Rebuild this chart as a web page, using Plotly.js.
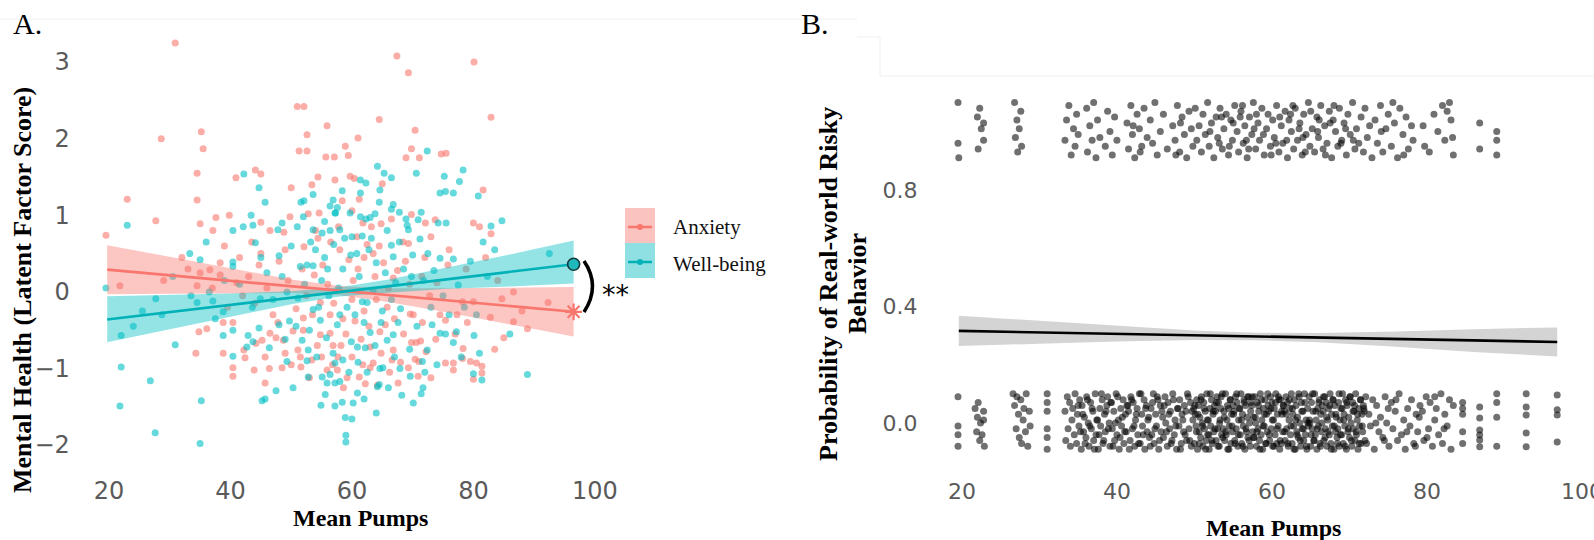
<!DOCTYPE html>
<html><head><meta charset="utf-8">
<script src="https://cdn.plot.ly/plotly-3.0.1.min.js"></script>
<style>html,body{margin:0;padding:0;background:#fff}#chart{width:1594px;height:540px}</style>
</head><body><div id="chart"></div>
<script>
// ---------- Panel A: mental health vs mean pumps ----------
const anxietyPoints = [
[30.9,3.25],[51.0,2.42],[52.1,2.42],[55.9,2.17],[35.2,2.09],[28.6,2.00],[35.5,1.87],[52.6,2.05],[51.3,1.84],[52.6,1.84],
[55.7,1.76],[57.1,1.76],[34.5,1.55],[40.9,1.49],[44.1,1.59],[45.0,1.54],[54.4,1.50],[53.4,1.40],[50.0,1.36],[57.2,1.46],
[23.0,1.21],[34.5,1.20],[27.7,0.93],[35.0,0.89],[37.6,0.97],[39.8,1.00],[37.1,0.80],[45.0,0.91],[49.8,0.98],[52.8,1.02],
[54.6,1.03],[48.8,0.78],[19.5,0.74],[45.0,0.50],[52.1,0.59],[54.4,0.70],[38.3,0.38],[44.7,0.35],[67.4,3.08],[69.3,2.86],
[80.1,3.00],[82.9,2.28],[64.5,2.25],[70.4,2.11],[61.0,2.01],[58.9,1.90],[59.4,1.78],[69.8,1.87],[68.9,1.75],[71.1,1.75],
[74.7,1.80],[75.5,1.81],[59.7,1.51],[60.4,1.48],[65.0,1.41],[81.6,1.33],[58.4,1.19],[61.2,1.21],[60.0,1.06],[64.8,0.89],
[69.8,1.01],[72.1,0.90],[73.7,0.94],[80.0,0.90],[81.0,0.85],[82.9,0.76],[68.4,0.65],[69.3,0.63],[63.5,0.50],[73.0,0.72],
[61.8,0.90],[21.8,0.08],[34.8,-0.52],[36.1,-0.48],[34.3,-0.80],[38.8,-0.80],[40.4,-0.40],[38.8,-0.40],[42.2,-0.76],[42.4,-0.86],
[40.4,-0.99],[40.4,-1.10],[43.9,-1.02],[45.7,-0.85],[46.4,-1.00],[45.7,-1.19],[44.2,-0.67],[45.2,-0.63],[46.5,-0.54],[47.5,-0.60],
[48.7,-0.63],[48.5,-0.99],[50.3,-0.51],[52.0,-0.50],[51.1,-0.76],[51.5,-0.85],[51.6,-0.98],[53.4,-0.89],[54.3,-0.70],[52.0,-0.34],
[54.8,-0.56],[56.4,-0.54],[56.9,-0.70],[57.7,-0.85],[55.9,-1.02],[57.6,-1.02],[54.8,-0.14],[56.4,-0.30],[35.0,0.25],[36.6,0.29],
[38.3,0.22],[88.9,-0.48],[86.6,-0.39],[92.3,-0.14],[84.7,-0.09],[86.6,0.00],[82.8,-0.33],[81.4,-1.06],[80.0,-1.14],[81.4,-0.97],
[80.5,-0.93],[79.5,-0.91],[78.2,-0.87],[78.3,-0.74],[76.7,-0.93],[76.7,-1.02],[75.4,-0.93],[73.0,-1.12],[70.9,-1.10],[67.6,-1.19],
[69.3,-0.99],[70.4,-0.88],[71.0,-0.91],[69.8,-0.66],[70.6,-0.66],[71.3,-0.64],[66.8,-0.76],[66.6,-0.89],[64.6,-0.52],[65.5,-0.43],
[69.6,-0.29],[70.1,-0.30],[71.6,-0.40],[74.5,-0.30],[75.4,-0.37],[77.3,-0.30],[63.0,-0.99],[63.5,-0.93],[61.2,-1.11],[78.2,-0.13],
[80.0,-0.13],[34.5,0.08],[37.0,0.05],[33.0,0.30],
[58.0,0.55],[59.5,0.42],[61.0,0.30],[62.5,0.62],[60.2,0.15],[63.8,0.20],[65.2,0.38],[66.0,0.05],[67.5,0.28],[64.0,-0.10],
[62.0,-0.25],[60.5,-0.38],[59.0,-0.55],[58.2,-0.70],[61.5,-0.62],[63.0,-0.72],[64.8,-0.80],[66.2,-1.05],[68.0,-0.92],[68.5,-0.55],
[67.0,-0.35],[65.8,-0.20],[62.8,-0.45],[60.0,-0.85],[61.8,-0.95],[59.2,-1.12],[58.6,-1.25],[62.2,-1.20],[64.2,-1.22],[57.0,-0.15],
[56.0,0.10],[55.2,0.35],[53.8,0.22],[52.5,-0.05],[50.8,-0.22],[49.5,0.15],[48.0,0.40],[47.0,-0.30],[46.0,0.05],[44.0,-0.15],
[43.0,0.20],[42.0,-0.05],[41.0,0.12],[39.5,-0.20],[57.8,0.85],[56.5,0.65],[60.8,0.72],[63.2,0.85],[66.5,0.95],[68.8,0.40],
[71.5,0.20],[72.8,-0.05],[74.0,0.12],[75.8,0.35],[77.0,-0.55],[73.8,-0.62],[72.2,-0.78],[55.0,-0.85],[53.0,-1.12],[50.0,-0.95],
[49.0,-0.80],[47.8,-0.40],[53.5,-0.30],[56.8,-0.95],[58.5,-0.35],[60.0,-0.10],[62.0,0.45],[64.5,0.60],[66.8,0.18],[69.5,0.10],
[72.0,0.45],[76.0,0.55],[78.8,0.30],[82.0,0.45],[84.0,0.15],[88.0,-0.25],[85.0,-0.60],[83.5,-0.75],[79.0,-0.40],[54.0,0.80],
[51.8,0.30],[49.0,0.55],[46.5,0.80],[43.5,0.65],[41.5,0.45],[39.0,0.60],[32.0,0.45],[29.0,0.15]
];
const wellbeingPoints = [
[42.2,1.54],[44.7,1.36],[45.7,1.17],[23.0,0.87],[43.4,1.00],[42.1,0.85],[43.7,0.87],[40.4,0.80],[48.5,0.90],[36.0,0.65],
[44.1,0.64],[33.3,0.50],[35.0,0.42],[40.4,0.39],[48.0,0.47],[53.6,1.27],[51.6,1.17],[52.1,1.19],[52.0,0.98],[56.4,1.12],
[57.6,1.10],[53.6,0.81],[55.1,0.77],[56.4,0.80],[55.5,0.92],[57.3,1.03],[72.4,1.84],[64.2,1.64],[65.3,1.55],[66.5,1.49],
[70.6,1.55],[78.3,1.59],[75.2,1.51],[77.7,1.44],[74.5,1.29],[75.4,1.31],[76.7,1.29],[80.8,1.25],[61.4,1.46],[62.3,1.42],
[58.4,1.32],[61.4,1.29],[64.6,1.33],[64.5,1.17],[66.8,1.14],[66.5,1.08],[67.8,1.04],[71.4,1.04],[70.9,0.94],[68.9,0.95],
[69.1,0.87],[69.3,0.81],[74.2,0.90],[75.5,0.90],[82.9,0.86],[84.7,0.93],[81.6,0.65],[71.2,0.69],[66.5,0.61],[63.8,1.02],
[63.0,0.97],[59.7,1.03],[61.4,0.98],[62.3,0.95],[58.0,0.81],[60.0,0.72],[61.7,0.73],[66.8,0.46],[74.5,0.44],[76.7,0.43],
[92.5,0.50],[56.9,1.20],[57.2,1.03],[19.5,0.05],[22.0,-0.98],[21.8,-1.49],[26.8,-1.16],[27.6,-1.84],[35.0,-1.98],[35.2,-1.42],
[30.9,-0.69],[27.7,-0.09],[28.7,-0.30],[22.0,-0.57],[34.5,-0.14],[37.1,-0.12],[38.8,-0.26],[40.4,-0.50],[38.8,-0.57],[40.4,-0.84],
[42.9,-0.57],[43.7,-0.65],[42.7,-0.72],[44.7,-0.47],[46.4,-0.73],[48.0,-0.43],[49.7,-0.38],[49.3,-0.91],[47.5,-1.29],[45.2,-1.42],
[45.7,-1.40],[50.3,-1.25],[51.8,-0.63],[52.8,-0.76],[52.6,-0.90],[54.8,-0.37],[52.8,-1.11],[55.1,-1.11],[55.9,-1.19],[56.4,-1.08],
[54.9,-1.48],[57.2,-1.49],[55.6,-1.34],[51.5,0.33],[52.6,0.35],[53.6,0.34],[53.6,-0.23],[51.1,-0.08],[49.3,0.00],[43.6,-0.20],
[44.9,-0.09],[57.6,-0.43],[56.9,-0.80],[88.9,-1.08],[59.0,-1.87],[59.0,-1.96],[58.9,-1.64],[60.0,-1.66],[64.0,-1.58],[58.4,-1.44],
[60.9,-1.32],[64.2,-1.24],[64.5,-1.21],[70.1,-1.45],[71.4,-1.33],[71.7,-1.25],[67.9,-1.00],[69.6,-1.10],[71.6,-0.91],[72.4,-0.76],
[73.2,-0.43],[74.5,-0.54],[75.4,-0.55],[76.7,-0.66],[77.2,-0.52],[80.1,-0.57],[81.0,-0.80],[80.0,-1.07],[81.4,-1.15],[70.7,-0.45],
[65.8,-0.63],[66.8,-0.56],[67.6,-0.40],[63.0,-0.53],[65.1,-0.99],[64.6,-1.00],[57.2,-1.19],[58.0,-1.17],[57.2,-0.93],[58.5,-0.89],
[59.9,-0.65],[60.9,-0.72],[62.2,-0.73],[61.7,-0.13],[62.5,-0.14],[82.3,0.20],[77.5,0.09],[47.8,0.81],[40.4,0.33],
[54.0,0.55],[55.5,0.45],[57.0,0.62],[58.5,0.30],[59.8,0.48],[61.2,0.20],[62.8,0.55],[64.0,0.38],[65.5,0.25],[67.2,0.12],
[68.5,0.30],[70.0,0.48],[71.8,0.15],[73.5,0.28],[55.0,0.15],[56.2,-0.05],[57.8,0.05],[59.2,-0.20],[60.5,-0.30],[62.0,-0.40],
[63.5,0.02],[65.0,-0.25],[66.5,-0.10],[68.0,-0.22],[69.5,-0.75],[67.0,-0.85],[66.0,-1.25],[68.2,-1.35],[62.5,-1.05],[61.0,-0.92],
[59.5,-1.05],[60.2,-1.45],[62.0,-1.40],[64.8,-0.40],[53.0,-0.50],[54.2,-0.85],[50.8,-0.45],[49.0,-0.62],[47.0,-0.10],[46.0,0.25],
[50.0,0.60],[51.0,0.85],[53.2,0.65],[56.0,0.30],[58.8,0.70],[60.8,0.50],[63.2,0.70],[65.8,0.80],[67.8,0.65],[69.8,0.20],
[72.5,0.50],[73.0,-0.20],[75.0,-0.05],[76.0,-0.30],[78.5,-0.20],[79.5,0.40],[83.5,0.55],[86.0,-0.55],[80.5,-0.30],[78.0,-0.85],
[74.0,-0.95],[72.0,-1.05],[63.8,-0.70],[58.0,-0.30],[55.8,-0.60],[54.5,-0.20],[52.2,0.10],[48.5,0.20],[45.0,0.45],[41.5,0.10],
[39.0,0.15],[37.5,-0.35],[36.5,0.00],[33.5,-0.05],[30.5,0.20],[25.5,-0.25],[24.0,-0.45]
];
const fitXA = [19.7, 96.5];
const anxietyFit = [0.29, -0.26];
const wellbeingFit = [-0.36, 0.36];
const ribbonXA = [19.7, 30, 40, 50, 58, 66, 76, 86, 96.5];
const anxietyUpper = [0.61, 0.455, 0.305, 0.162, 0.076, 0.047, 0.047, 0.054, 0.064];
const anxietyLower = [-0.032, -0.023, -0.015, -0.016, -0.044, -0.131, -0.273, -0.424, -0.584];
const wellbeingUpper = [-0.057, -0.038, -0.02, 0.009, 0.06, 0.16, 0.319, 0.488, 0.67];
const wellbeingLower = [-0.657, -0.488, -0.32, -0.161, -0.06, -0.01, 0.04, 0.07, 0.11];
const xTickVals = [20, 40, 60, 80, 100];
const yTickValsA = [-2, -1, 0, 1, 2, 3];
const groupNames = ['Anxiety', 'Well-being'];

// ---------- Panel B: real-world risky behaviour (1 = yes, 0 = no, jittered) ----------
const riskyPoints = [
[19.5,1.10],[19.5,0.96],[19.6,0.91],
[22.0,1.05],[22.1,0.94],[22.3,1.08],[22.5,1.01],[22.8,0.97],[22.8,1.03],
[26.8,1.10],[26.9,0.98],[27.1,1.04],[27.2,0.93],[27.4,1.01],[27.6,1.07],[27.7,0.95],
[33.3,0.97],[33.5,1.04],[33.8,1.09],[34.1,0.92],[34.4,1.01],[34.6,0.95],[34.8,1.06],[35.0,0.99],
[36.1,1.08],[36.2,0.93],[36.5,1.02],[36.8,0.97],[37.0,1.10],[37.3,0.91],[37.5,1.04],[37.8,0.98],
[38.5,0.95],[38.8,1.07],[39.1,1.00],[39.4,0.92],[39.7,1.05],[40.0,0.97],
[41.3,1.03],[41.5,0.94],[41.8,1.09],[42.0,0.99],[42.3,0.91],[42.6,1.06],[42.9,1.01],[43.2,0.95],[43.5,1.08],[43.9,0.98],[42.1,1.02],[43.0,0.93],
[44.3,1.04],[44.6,0.96],[44.9,1.10],[45.2,0.92],[45.6,1.00],[46.0,1.06],[46.5,0.94],
[47.2,1.02],[47.5,0.97],[47.8,1.09],[48.1,0.93],[48.4,1.05],[48.7,0.99],[49.0,0.91],[49.3,1.07],[49.6,1.01],[49.8,0.95],[48.2,1.03],[47.6,0.92],
[50.1,1.08],[50.3,0.97],[50.6,1.02],[50.9,0.93],[51.1,1.06],[51.4,0.99],[51.7,1.10],[51.9,0.95],[52.2,1.03],[52.5,0.91],
[52.8,1.05],[53.0,0.98],[53.3,1.08],[53.6,0.94],[53.8,1.01],[54.1,1.06],[54.4,0.92],[54.7,1.04],[54.9,0.97],[55.2,1.09],
[55.5,1.00],[55.7,0.93],[56.0,1.07],[56.3,0.96],[56.5,1.02],[56.8,0.91],[57.1,1.05],[57.4,0.99],[57.6,1.10],[57.9,0.94],
[58.2,1.03],[58.4,0.97],[58.7,1.08],[59.0,0.92],[59.3,1.01],[59.5,1.06],[59.8,0.95],[60.1,1.04],[60.3,0.98],[60.6,1.09],
[60.9,0.93],[61.2,1.02],[61.4,0.96],[61.7,1.07],[62.0,0.91],[62.2,1.04],[62.5,1.00],[62.8,0.94],[63.0,1.08],[63.3,0.97],
[63.6,1.03],[63.9,0.92],[64.1,1.06],[64.4,0.99],[64.7,1.10],[64.9,0.95],[65.2,1.01],[65.5,0.93],[65.8,1.05],[66.0,0.98],
[66.3,1.09],[66.6,0.94],[66.8,1.02],[67.1,0.96],[67.4,1.07],[67.7,0.91],[67.9,1.04],[68.2,1.00],[68.5,0.95],[68.7,1.08],
[69.0,0.97],[69.3,1.03],[69.6,0.92],[69.8,1.06],[70.1,0.99],[70.4,1.10],[70.7,0.94],[70.9,1.01],[71.2,0.96],[71.5,1.05],
[71.8,0.93],[72.0,1.08],[72.3,0.98],[72.6,1.02],[72.9,0.91],
[52.0,1.00],[53.5,1.05],[54.5,0.95],[55.0,1.03],[56.2,1.09],[57.0,0.94],[58.0,1.06],[58.9,0.99],[59.9,0.92],[61.0,1.05],
[61.9,0.97],[62.7,1.09],[63.5,1.01],[64.3,0.93],[65.0,1.07],[65.9,1.00],[66.9,0.92],[67.5,1.03],[68.0,1.09],[68.9,0.96],
[53.2,0.96],[55.9,1.05],[57.7,1.01],[60.5,0.96],[62.4,1.06],[64.0,0.98],[66.1,1.04],[69.5,1.01],[70.5,0.97],[56.7,0.97],
[73.3,1.04],[73.6,0.96],[74.0,1.09],[74.3,0.93],[74.7,1.01],[75.0,1.06],[75.4,0.95],[75.8,1.03],[76.2,0.91],[76.5,1.08],
[76.9,0.99],[77.3,1.05],[77.6,0.94],[78.0,1.02],[78.2,0.97],[74.1,1.00],[75.6,1.10],[77.0,0.92],
[79.5,1.02],[79.7,0.95],[80.3,0.93],[80.9,1.06],[81.4,1.00],[82.0,1.09],[82.3,0.97],[82.9,1.10],[83.1,1.04],[83.3,0.98],[83.4,0.92],[82.6,1.07],
[86.8,1.03],[86.8,0.94],
[89.0,1.00],[89.0,0.97],[89.0,0.92]
];
const safePoints = [
[19.5,0.09],[19.5,-0.01],[19.5,-0.04],[19.5,-0.08],
[21.7,0.05],[21.9,-0.03],[22.0,0.02],[22.1,0.07],[22.3,-0.06],[22.4,0.00],[22.6,-0.04],[22.8,0.04],[22.9,-0.08],[22.8,0.01],
[26.6,0.10],[26.8,0.06],[27.0,-0.02],[27.1,0.09],[27.3,0.03],[27.4,-0.05],[27.6,0.08],[27.7,-0.07],[27.9,0.01],[28.0,0.05],[28.2,-0.03],[28.3,0.10],[28.5,-0.08],[28.7,0.04],[28.8,-0.01],
[31.0,0.10],[31.0,0.07],[31.0,0.04],[31.0,-0.02],[31.0,-0.05],[31.0,-0.09],
[33.3,0.04],[33.4,-0.06],[33.6,0.09],[33.7,-0.02],[33.9,0.07],[34.0,-0.08],[34.2,0.01],[34.3,0.05],[34.5,-0.04],[34.6,0.10],
[34.8,-0.07],[34.9,0.03],[35.1,-0.01],[35.2,0.08],[35.4,-0.09],[35.5,0.06],[35.7,-0.03],[35.8,0.02],[36.0,-0.05],[36.1,0.09],
[36.3,0.00],[36.4,-0.08],[36.6,0.07],[36.7,-0.02],[36.9,0.04],[37.0,-0.06],[37.2,0.10],[37.3,-0.04],[37.5,0.01],[37.6,-0.09],
[37.8,0.05],[37.9,-0.01],[38.1,0.08],[38.2,-0.07],[38.4,0.03],[38.5,-0.03],[38.7,0.06],
[38.8,0.09],[39.0,0.00],[39.1,-0.08],[39.3,0.07],[39.4,-0.02],[39.6,0.04],[39.7,-0.06],[39.9,0.10],[40.0,-0.04],[40.2,0.01],
[40.3,-0.09],[40.5,0.05],[40.6,-0.01],[40.8,0.08],[40.9,-0.07],[41.1,0.03],[41.2,-0.03],[41.4,0.06],[41.5,0.04],[41.7,-0.06],
[41.8,0.09],[42.0,-0.02],[42.1,0.07],[42.3,-0.08],[42.4,0.01],[42.6,0.05],[42.7,-0.04],[42.9,0.10],[43.0,-0.07],[43.2,0.03],
[43.3,-0.01],[43.5,0.08],[43.6,-0.09],[43.8,0.06],[43.9,-0.03],[44.1,0.02],[44.2,-0.05],
[44.4,0.05],[44.5,-0.04],[44.7,0.10],[44.8,-0.07],[45.0,0.03],[45.1,-0.01],[45.3,0.08],[45.4,-0.09],[45.6,0.06],[45.7,-0.03],
[45.9,0.02],[46.0,-0.05],[46.2,0.09],[46.3,0.00],[46.5,-0.08],[46.6,0.07],[46.8,-0.02],[46.9,0.04],[47.1,-0.06],[47.2,0.10],
[47.4,-0.04],[47.5,0.01],[47.7,-0.09],[47.8,0.05],[48.0,-0.01],[48.1,0.08],[48.3,-0.07],[48.4,0.03],[48.6,-0.03],[48.7,0.06],
[48.9,0.04],[49.0,-0.06],[49.2,0.09],[49.3,-0.02],[49.5,0.07],[49.6,-0.08],[49.8,0.01],[49.9,0.05],
[35.0,0.06],[35.3,-0.03],[35.6,0.03],[35.9,-0.07],[36.2,0.08],[36.5,-0.01],[36.8,0.05],[37.1,-0.09],[37.4,0.01],[37.7,-0.04],
[38.0,0.10],[38.3,-0.06],[38.6,0.04],[38.9,-0.02],[39.2,0.07],[39.5,-0.08],[39.8,0.00],[40.1,0.09],[40.4,-0.05],[40.7,0.02],
[41.0,-0.03],[41.3,0.06],[41.6,-0.09],[41.9,0.08],[42.2,-0.01],[42.5,0.03],[42.8,-0.07],[43.1,0.10],[43.4,-0.04],[43.7,0.05],
[44.0,0.01],[44.3,-0.08],[44.6,0.07],[44.9,-0.02],[45.2,0.09],[45.5,-0.06],[45.8,0.04],
[46.1,0.06],[46.4,-0.03],[46.7,0.03],[47.0,-0.07],[47.3,0.08],[47.6,-0.01],[47.9,0.05],[48.2,-0.09],[48.5,0.01],[48.8,-0.04],
[49.1,0.10],[49.4,-0.06],[49.7,0.04],
[50.0,-0.07],[50.1,0.03],[50.2,-0.01],[50.3,0.08],[50.4,-0.09],[50.5,0.06],[50.6,-0.03],[50.7,0.02],[50.8,-0.05],[50.9,0.09],
[51.0,0.00],[51.1,-0.08],[51.2,0.07],[51.3,-0.02],[51.4,0.04],[51.5,-0.06],[51.6,0.10],[51.7,-0.04],[51.8,0.01],[51.9,-0.09],
[52.0,0.05],[52.1,-0.01],[52.2,0.08],[52.3,-0.07],[52.4,0.03],[52.5,-0.03],[52.6,0.06],[52.7,0.04],[52.8,-0.06],[52.9,0.09],
[53.0,-0.02],[53.1,0.07],[53.2,-0.08],[53.3,0.01],[53.4,0.05],[53.5,-0.04],[53.6,0.10],
[53.7,-0.02],[53.8,0.04],[53.9,-0.06],[54.0,0.10],[54.1,-0.04],[54.2,0.01],[54.3,-0.09],[54.4,0.05],[54.5,-0.01],[54.6,0.08],
[54.7,-0.07],[54.8,0.03],[54.9,-0.03],[55.0,0.06],[55.1,0.04],[55.2,-0.06],[55.3,0.09],[55.4,-0.02],[55.5,0.07],[55.6,-0.08],
[55.7,0.01],[55.8,0.05],[55.9,-0.04],[56.0,0.10],[56.1,-0.07],[56.2,0.03],[56.3,-0.01],[56.4,0.08],[56.5,-0.09],[56.6,0.06],
[56.7,-0.03],[56.8,0.02],[56.9,-0.05],[57.0,0.09],[57.1,0.00],[57.2,-0.08],[57.3,0.07],
[57.4,0.06],[57.5,-0.03],[57.6,0.02],[57.7,-0.05],[57.8,0.09],[57.9,0.00],[58.0,-0.08],[58.1,0.07],[58.2,-0.02],[58.3,0.04],
[58.4,-0.06],[58.5,0.10],[58.6,-0.04],[58.7,0.01],[58.8,-0.09],[58.9,0.05],[59.0,-0.01],[59.1,0.08],[59.2,-0.07],[59.3,0.03],
[59.4,-0.03],[59.5,0.06],[59.6,0.04],[59.7,-0.06],[59.8,0.09],[59.9,-0.02],[60.0,0.07],[60.1,-0.08],[60.2,0.01],[60.3,0.05],
[60.4,-0.04],[60.5,0.10],[60.6,-0.07],[60.7,0.03],[60.8,-0.01],[60.9,0.08],[61.0,-0.09],
[61.1,0.08],[61.2,-0.07],[61.3,0.03],[61.4,-0.03],[61.5,0.06],[61.6,0.04],[61.7,-0.06],[61.8,0.09],[61.9,-0.02],[62.0,0.07],
[62.1,-0.08],[62.2,0.01],[62.3,0.05],[62.4,-0.04],[62.5,0.10],[62.6,-0.07],[62.7,0.03],[62.8,-0.01],[62.9,0.08],[63.0,-0.09],
[63.1,0.06],[63.2,-0.03],[63.3,0.02],[63.4,-0.05],[63.5,0.09],[63.6,0.00],[63.7,-0.08],[63.8,0.07],[63.9,-0.02],[64.0,0.04],
[64.1,-0.06],[64.2,0.10],[64.3,-0.04],[64.4,0.01],[64.5,-0.09],[64.6,0.05],[64.7,-0.01],
[64.8,0.09],[64.9,0.00],[65.0,-0.08],[65.1,0.07],[65.2,-0.02],[65.3,0.04],[65.4,-0.06],[65.5,0.10],[65.6,-0.04],[65.7,0.01],
[65.8,-0.09],[65.9,0.05],[66.0,-0.01],[66.1,0.08],[66.2,-0.07],[66.3,0.03],[66.4,-0.03],[66.5,0.06],[66.6,0.04],[66.7,-0.06],
[66.8,0.09],[66.9,-0.02],[67.0,0.07],[67.1,-0.08],[67.2,0.01],[67.3,0.05],[67.4,-0.04],[67.5,0.10],[67.6,-0.07],[67.7,0.03],
[67.8,-0.01],[67.9,0.08],[68.0,-0.09],[68.1,0.06],[68.2,-0.03],[68.3,0.02],[68.4,-0.05],
[68.5,-0.02],[68.6,0.07],[68.7,-0.08],[68.8,0.01],[68.9,0.05],[69.0,-0.04],[69.1,0.10],[69.2,-0.07],[69.3,0.03],[69.4,-0.01],
[69.5,0.08],[69.6,-0.09],[69.7,0.06],[69.8,-0.03],[69.9,0.02],[70.0,-0.05],[70.1,0.09],[70.2,0.00],[70.3,-0.08],[70.4,0.07],
[70.5,-0.02],[70.6,0.04],[70.7,-0.06],[70.8,0.10],[70.9,-0.04],[71.0,0.01],[71.1,-0.09],[71.2,0.05],[71.3,-0.01],[71.4,0.08],
[71.5,-0.07],[71.6,0.03],[71.7,-0.03],[71.8,0.06],[71.9,0.04],[72.0,-0.06],[72.1,0.09],
[50.05,0.06],[50.25,-0.03],[50.45,0.03],[50.65,-0.07],[50.85,0.08],[51.05,-0.01],[51.25,0.05],[51.45,-0.09],[51.65,0.01],[51.85,-0.04],
[52.05,0.10],[52.25,-0.06],[52.45,0.04],[52.65,-0.02],[52.85,0.07],[53.05,-0.08],[53.25,0.00],[53.45,0.09],[53.65,-0.05],[53.85,0.02],
[54.05,-0.03],[54.25,0.06],[54.45,-0.09],[54.65,0.08],[54.85,-0.01],[55.05,0.03],[55.25,-0.07],[55.45,0.10],[55.65,-0.04],[55.85,0.05],
[56.05,0.01],[56.25,-0.08],[56.45,0.07],[56.65,-0.02],[56.85,0.09],[57.05,-0.06],[57.25,0.04],
[57.45,0.09],[57.65,-0.05],[57.85,0.02],[58.05,-0.03],[58.25,0.06],[58.45,-0.09],[58.65,0.08],[58.85,-0.01],[59.05,0.03],[59.25,-0.07],
[59.45,0.10],[59.65,-0.04],[59.85,0.05],[60.05,0.01],[60.25,-0.08],[60.45,0.07],[60.65,-0.02],[60.85,0.09],[61.05,-0.06],[61.25,0.04],
[61.45,0.06],[61.65,-0.03],[61.85,0.03],[62.05,-0.07],[62.25,0.08],[62.45,-0.01],[62.65,0.05],[62.85,-0.09],[63.05,0.01],[63.25,-0.04],
[63.45,0.10],[63.65,-0.06],[63.85,0.04],[64.05,-0.02],[64.25,0.07],[64.45,-0.08],[64.65,0.00],
[64.85,0.01],[65.05,-0.04],[65.25,0.10],[65.45,-0.06],[65.65,0.04],[65.85,-0.02],[66.05,0.07],[66.25,-0.08],[66.45,0.00],[66.65,0.09],
[66.85,-0.05],[67.05,0.02],[67.25,-0.03],[67.45,0.06],[67.65,-0.09],[67.85,0.08],[68.05,-0.01],[68.25,0.03],[68.45,-0.07],[68.65,0.10],
[68.85,-0.04],[69.05,0.05],[69.25,0.01],[69.45,-0.08],[69.65,0.07],[69.85,-0.02],[70.05,0.09],[70.25,-0.06],[70.45,0.04],[70.65,0.06],
[70.85,-0.03],[71.05,0.03],[71.25,-0.07],[71.45,0.08],[71.65,-0.01],[71.85,0.05],
[72.2,-0.07],[72.5,0.03],[72.7,-0.01],[73.0,0.08],[73.2,-0.09],[73.5,0.06],[73.8,-0.03],[74.0,0.02],[74.3,-0.05],[74.6,0.09],
[74.8,0.00],[75.1,-0.08],[75.4,0.07],[75.6,-0.02],[75.9,0.04],[76.2,-0.06],[76.4,0.10],[76.7,-0.04],[77.0,0.01],[77.2,-0.09],
[77.5,0.05],[77.8,-0.01],[78.0,0.08],[78.3,-0.07],[78.6,0.03],[78.8,-0.03],[79.1,0.06],[79.4,0.04],[79.6,-0.06],[79.9,0.09],
[80.2,-0.02],[80.4,0.07],[80.7,-0.08],[81.0,0.01],[81.2,0.05],[81.5,-0.04],[81.8,0.10],[82.0,-0.07],[82.3,0.03],[82.6,-0.01],
[82.9,0.08],[83.1,-0.09],[83.4,0.06],
[73.4,0.00],[74.5,-0.06],[75.0,0.05],[76.0,0.08],[77.4,-0.03],[78.5,-0.08],[79.0,0.02],[80.0,-0.05],[81.0,0.09],[82.2,-0.02],
[84.6,0.07],[84.6,0.05],[84.6,0.03],[84.6,-0.03],[84.6,-0.07],
[86.8,0.055],[86.8,0.017],[86.8,-0.024],[86.8,-0.041],[86.8,-0.058],[86.8,-0.082],
[89.0,0.10],[89.0,0.07],[89.0,0.02],[89.0,-0.08],
[92.8,0.10],[92.8,0.055],[92.8,0.027],[92.8,-0.034],[92.8,-0.082],
[96.8,0.096],[96.8,0.045],[96.8,0.027],[96.8,-0.065]
];
const fitXB = [19.6, 96.8];
const riskFit = [0.316, 0.278];
const ribbonXB = [19.6, 30, 40, 50, 58, 66, 76, 86, 96.8];
const riskUpper = [0.368, 0.350, 0.332, 0.317, 0.310, 0.309, 0.314, 0.322, 0.328];
const riskLower = [0.264, 0.272, 0.280, 0.285, 0.284, 0.277, 0.262, 0.244, 0.228];
const yTickValsB = [0, 0.4, 0.8];

// ---------- helpers ----------
const xs = p => p.map(d => d[0]);
const ys = p => p.map(d => d[1]);
const bandX = xv => xv.concat(xv.slice().reverse());
const bandY = (up, lo) => up.concat(lo.slice().reverse());

const PINK = '#F8766D', TEAL = '#00BFC4';
const pxX = v => v / 1594, pxY = v => 1 - v / 540;

const traces = [
  {x: xs(anxietyPoints), y: ys(anxietyPoints), xaxis:'x', yaxis:'y', type:'scatter', mode:'markers', name: groupNames[0],
   marker:{color:'rgba(248,118,109,0.6)', size:7}, showlegend:false},
  {x: xs(wellbeingPoints), y: ys(wellbeingPoints), xaxis:'x', yaxis:'y', type:'scatter', mode:'markers', name: groupNames[1],
   marker:{color:'rgba(0,191,196,0.6)', size:7}, showlegend:false},
  {x: bandX(ribbonXA), y: bandY(anxietyUpper, anxietyLower), xaxis:'x', yaxis:'y', type:'scatter', mode:'lines',
   fill:'toself', fillcolor:'rgba(248,118,109,0.42)', line:{width:0}, showlegend:false},
  {x: bandX(ribbonXA), y: bandY(wellbeingUpper, wellbeingLower), xaxis:'x', yaxis:'y', type:'scatter', mode:'lines',
   fill:'toself', fillcolor:'rgba(0,191,196,0.42)', line:{width:0}, showlegend:false},
  {x: fitXA, y: anxietyFit, xaxis:'x', yaxis:'y', type:'scatter', mode:'lines', line:{color:PINK, width:2.6}, showlegend:false},
  {x: fitXA, y: wellbeingFit, xaxis:'x', yaxis:'y', type:'scatter', mode:'lines', line:{color:'#00B2B7', width:2.6}, showlegend:false},
  {x: [fitXA[1]], y: [anxietyFit[1]], xaxis:'x', yaxis:'y', type:'scatter', mode:'markers',
   marker:{symbol:'asterisk-open', size:14, color:PINK, line:{color:PINK, width:2.2}}, showlegend:false, cliponaxis:false},
  {x: [fitXA[1]], y: [wellbeingFit[1]], xaxis:'x', yaxis:'y', type:'scatter', mode:'markers',
   marker:{symbol:'circle', size:12, color:'#1FB8BD', line:{color:'#17393b', width:1.6}}, showlegend:false, cliponaxis:false},

  {x: xs(safePoints), y: ys(safePoints), xaxis:'x2', yaxis:'y2', type:'scatter', mode:'markers',
   marker:{color:'rgba(0,0,0,0.56)', size:7}, showlegend:false},
  {x: xs(riskyPoints), y: ys(riskyPoints), xaxis:'x2', yaxis:'y2', type:'scatter', mode:'markers',
   marker:{color:'rgba(0,0,0,0.56)', size:7}, showlegend:false},
  {x: bandX(ribbonXB), y: bandY(riskUpper, riskLower), xaxis:'x2', yaxis:'y2', type:'scatter', mode:'lines',
   fill:'toself', fillcolor:'rgba(153,153,153,0.42)', line:{width:0}, showlegend:false},
  {x: fitXB, y: riskFit, xaxis:'x2', yaxis:'y2', type:'scatter', mode:'lines', line:{color:'#000', width:2.6}, showlegend:false}
];

const tickFontA = {family:'DejaVu Sans', size:24, color:'#5a5a5a'};
const tickFontB = {family:'DejaVu Sans', size:22, color:'#5a5a5a'};
const axisBase = {showgrid:false, zeroline:false, showline:false, ticks:'outside', tickcolor:'rgba(0,0,0,0)', fixedrange:true};
const serifBold = s => ({family:'Liberation Serif', size:s, color:'#000'});

const layout = {
  width:1594, height:540, margin:{l:0, r:0, t:0, b:0},
  paper_bgcolor:'#fff', plot_bgcolor:'rgba(0,0,0,0)', showlegend:false, hovermode:false,
  xaxis: Object.assign({}, axisBase, {domain:[0.05182, 0.37453], range:[15.65, 100.35], tickvals:xTickVals, ticklen:4, tickfont:tickFontA, anchor:'y'}),
  yaxis: Object.assign({}, axisBase, {domain:[0.13889, 0.95741], range:[-2.26, 3.51], tickvals:yTickValsA, ticklen:7, tickfont:tickFontA, anchor:'x'}),
  xaxis2: Object.assign({}, axisBase, {domain:[0.58156, 0.99686], range:[15.5, 100.9], tickvals:xTickVals, ticklen:2, tickfont:tickFontB, anchor:'y2', ticklabeloverflow:'allow'}),
  yaxis2: Object.assign({}, axisBase, {domain:[0.13037, 0.84259], range:[-0.16, 1.16], tickvals:yTickValsB, tickformat:'.1f', ticklen:4, tickfont:tickFontB, anchor:'x2'}),
  shapes: [
    {type:'line', xref:'paper', yref:'paper', x0:0, x1:pxX(857), y0:pxY(19), y1:pxY(19), line:{color:'#f0f0f0', width:1}, layer:'below'},
    {type:'line', xref:'paper', yref:'paper', x0:pxX(857), x1:pxX(880), y0:pxY(37), y1:pxY(37), line:{color:'#f0f0f0', width:1}, layer:'below'},
    {type:'line', xref:'paper', yref:'paper', x0:pxX(880), x1:pxX(880), y0:pxY(37), y1:pxY(76), line:{color:'#f0f0f0', width:1}, layer:'below'},
    {type:'line', xref:'paper', yref:'paper', x0:pxX(880), x1:1, y0:pxY(76), y1:pxY(76), line:{color:'#f0f0f0', width:1}, layer:'below'},
    {type:'rect', xref:'paper', yref:'paper', x0:pxX(625), x1:pxX(655), y0:pxY(243), y1:pxY(208), fillcolor:'#fac3bf', line:{width:0}},
    {type:'rect', xref:'paper', yref:'paper', x0:pxX(625), x1:pxX(655), y0:pxY(278), y1:pxY(243), fillcolor:'#8fe0e2', line:{width:0}},
    {type:'line', xref:'paper', yref:'paper', x0:pxX(628), x1:pxX(652), y0:pxY(227), y1:pxY(227), line:{color:PINK, width:2.5}},
    {type:'line', xref:'paper', yref:'paper', x0:pxX(628), x1:pxX(652), y0:pxY(262), y1:pxY(262), line:{color:'#00B2B7', width:2.5}},
    {type:'circle', xref:'paper', yref:'paper', x0:pxX(637), x1:pxX(643), y0:pxY(230), y1:pxY(224), fillcolor:PINK, line:{width:0}},
    {type:'circle', xref:'paper', yref:'paper', x0:pxX(637), x1:pxX(643), y0:pxY(265), y1:pxY(259), fillcolor:'#00B2B7', line:{width:0}},
    {type:'path', xref:'paper', yref:'paper',
     path:'M ' + pxX(584) + ' ' + pxY(261) + ' Q ' + pxX(601) + ' ' + pxY(286) + ' ' + pxX(584) + ' ' + pxY(312),
     line:{color:'#000', width:3.5}}
  ],
  annotations: [
    {text:'A.', xref:'paper', yref:'paper', x:pxX(11), y:pxY(23), xanchor:'left', yanchor:'middle', showarrow:false, font:{family:'Liberation Serif', size:30, color:'#000'}},
    {text:'B.', xref:'paper', yref:'paper', x:pxX(799), y:pxY(23), xanchor:'left', yanchor:'middle', showarrow:false, font:{family:'Liberation Serif', size:30, color:'#000'}},
    {text:'<b>Mental Health (Latent Factor Score)</b>', xref:'paper', yref:'paper', x:pxX(22), y:pxY(290), textangle:-90, xanchor:'center', yanchor:'middle', showarrow:false, font:serifBold(26)},
    {text:'<b>Mean Pumps</b>', xref:'paper', yref:'paper', x:pxX(360), y:pxY(518), xanchor:'center', yanchor:'middle', showarrow:false, font:serifBold(24)},
    {text:'<b>Probability of Real-world Risky</b>', xref:'paper', yref:'paper', x:pxX(828), y:pxY(284), textangle:-90, xanchor:'center', yanchor:'middle', showarrow:false, font:serifBold(26)},
    {text:'<b>Behavior</b>', xref:'paper', yref:'paper', x:pxX(857), y:pxY(284), textangle:-90, xanchor:'center', yanchor:'middle', showarrow:false, font:serifBold(26)},
    {text:'<b>Mean Pumps</b>', xref:'paper', yref:'paper', x:pxX(1273), y:pxY(528), xanchor:'center', yanchor:'middle', showarrow:false, font:serifBold(24)},
    {text:groupNames[0], xref:'paper', yref:'paper', x:pxX(671), y:pxY(227), xanchor:'left', yanchor:'middle', showarrow:false, font:{family:'Liberation Serif', size:21, color:'#111'}},
    {text:groupNames[1], xref:'paper', yref:'paper', x:pxX(671), y:pxY(264), xanchor:'left', yanchor:'middle', showarrow:false, font:{family:'Liberation Serif', size:21, color:'#111'}},
    {text:'**', xref:'paper', yref:'paper', x:pxX(615), y:pxY(294), xanchor:'center', yanchor:'middle', showarrow:false, font:{family:'DejaVu Sans', size:27, color:'#000'}}
  ]
};

Plotly.newPlot('chart', traces, layout, {staticPlot:true, displayModeBar:false});
</script>
</body></html>
